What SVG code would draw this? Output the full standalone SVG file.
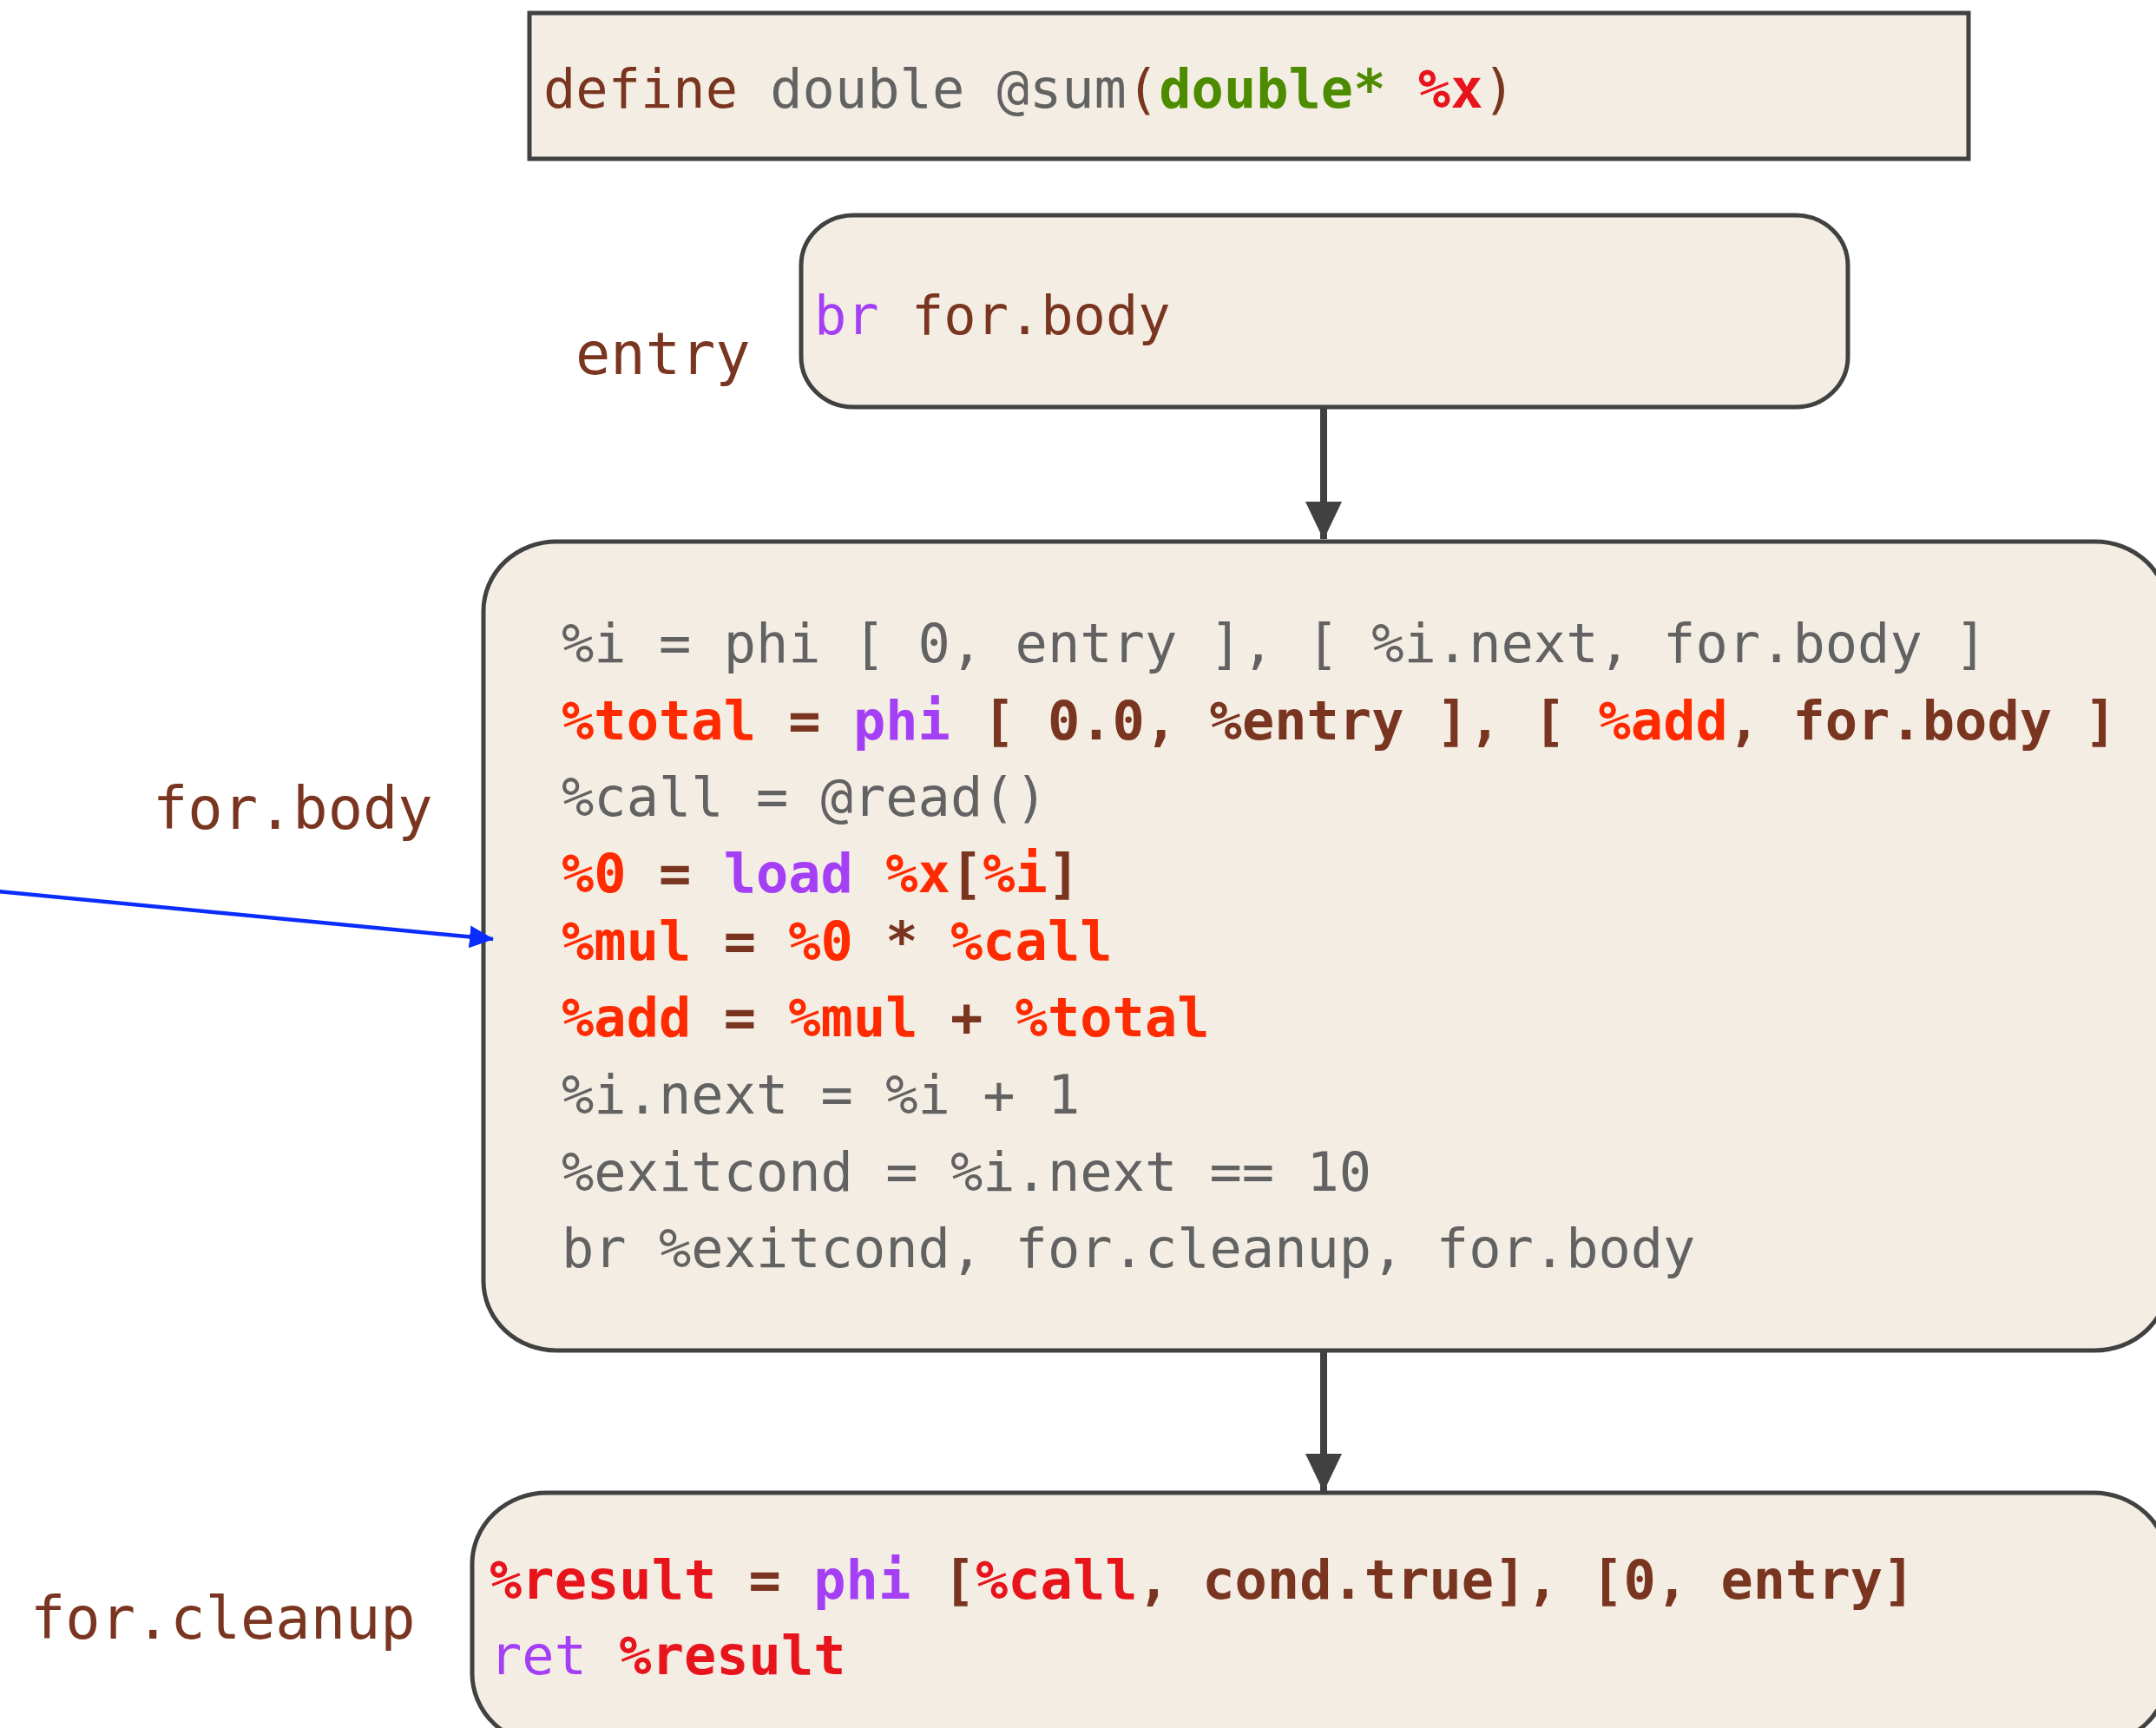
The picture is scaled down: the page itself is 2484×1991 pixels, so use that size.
<svg xmlns="http://www.w3.org/2000/svg" width="2484" height="1991" viewBox="0 0 2484 1991">
<style>
.box{fill:#f3ede3;stroke:#414141;stroke-width:5}
.code{font-family:"DejaVu Sans Mono","Liberation Mono",monospace;font-size:62px}
.lbl{font-family:"DejaVu Sans Mono","Liberation Mono",monospace;font-size:67px;fill:#7a3520}
.g{fill:#626262}
.b{fill:#7a3520}
.gr{fill:#4d8c00;font-weight:bold}
.r{fill:#e8141c;font-weight:bold}
.o{fill:#ff2a00;font-weight:bold}
.p{fill:#a43ff5}
.bb{font-weight:bold}
</style>
<defs>
<marker id="ah" markerUnits="userSpaceOnUse" markerWidth="44" markerHeight="46" refX="45" refY="22" orient="auto" viewBox="0 0 46 44">
<path d="M0,0 L46,22 L0,44 Z" fill="#414141"/>
</marker>
<marker id="bh" markerUnits="userSpaceOnUse" markerWidth="28" markerHeight="26" refX="27" refY="13" orient="auto" viewBox="0 0 28 26">
<path d="M0,0 L28,13 L0,26 Z" fill="#0a2cff"/>
</marker>
</defs>
<rect width="2484" height="1991" fill="#ffffff"/>
<g id="define">
<rect class="box" x="610" y="15" width="1658" height="168"/>
<text class="code" x="626" y="124" xml:space="preserve"><tspan class="b">define</tspan><tspan class="g"> double @sum</tspan><tspan class="b">(</tspan><tspan class="gr">double*</tspan> <tspan class="r">%x</tspan><tspan class="b">)</tspan></text>
</g>
<g id="entry">
<rect class="box" x="923" y="248" width="1206" height="221" rx="60" ry="58"/>
<text class="code" x="938" y="385" xml:space="preserve"><tspan class="p">br</tspan><tspan class="b"> for.body</tspan></text>
<text class="lbl" x="663" y="431">entry</text>
</g>
<g id="for.body">
<rect class="box" x="557" y="624" width="1941" height="932" rx="84" ry="80"/>
<text class="code g" x="647" y="763" xml:space="preserve">%i = phi [ 0, entry ], [ %i.next, for.body ]</text>
<text class="code bb" x="647" y="852" xml:space="preserve"><tspan class="o">%total</tspan><tspan class="b"> = </tspan><tspan class="p">phi</tspan><tspan class="b"> [ 0.0, %entry ], [ </tspan><tspan class="o">%add</tspan><tspan class="b">, for.body ]</tspan></text>
<text class="code g" x="647" y="940" xml:space="preserve">%call = @read()</text>
<text class="code bb" x="647" y="1028" xml:space="preserve"><tspan class="o">%0</tspan><tspan class="b"> = </tspan><tspan class="p">load</tspan> <tspan class="o">%x</tspan><tspan class="b">[</tspan><tspan class="o">%i</tspan><tspan class="b">]</tspan></text>
<text class="code bb" x="647" y="1106" xml:space="preserve"><tspan class="o">%mul</tspan><tspan class="b"> = </tspan><tspan class="o">%0</tspan><tspan class="b"> * </tspan><tspan class="o">%call</tspan></text>
<text class="code bb" x="647" y="1194" xml:space="preserve"><tspan class="o">%add</tspan><tspan class="b"> = </tspan><tspan class="o">%mul</tspan><tspan class="b"> + </tspan><tspan class="o">%total</tspan></text>
<text class="code g" x="647" y="1283" xml:space="preserve">%i.next = %i + 1</text>
<text class="code g" x="647" y="1372" xml:space="preserve">%exitcond = %i.next == 10</text>
<text class="code g" x="647" y="1460" xml:space="preserve">br %exitcond, for.cleanup, for.body</text>
<text class="lbl" x="176" y="955">for.body</text>
</g>
<g id="for.cleanup">
<rect class="box" x="544" y="1720" width="1954" height="290" rx="86" ry="82"/>
<text class="code bb" x="564" y="1842" xml:space="preserve"><tspan class="r">%result</tspan><tspan class="b"> = </tspan><tspan class="p">phi</tspan><tspan class="b"> [</tspan><tspan class="r">%call</tspan><tspan class="b">, cond.true], [0, entry]</tspan></text>
<text class="code" x="564" y="1929" xml:space="preserve"><tspan class="p">ret</tspan> <tspan class="r">%result</tspan></text>
<text class="lbl" x="35" y="1888">for.cleanup</text>
</g>
<g id="connectors">
<line x1="1525" y1="469" x2="1525" y2="621" stroke="#414141" stroke-width="8" marker-end="url(#ah)"/>
<line x1="1525" y1="1556" x2="1525" y2="1718" stroke="#414141" stroke-width="8" marker-end="url(#ah)"/>
<line x1="-2" y1="1027" x2="568" y2="1082" stroke="#0a2cff" stroke-width="4.5" marker-end="url(#bh)"/>
</g>
</svg>
